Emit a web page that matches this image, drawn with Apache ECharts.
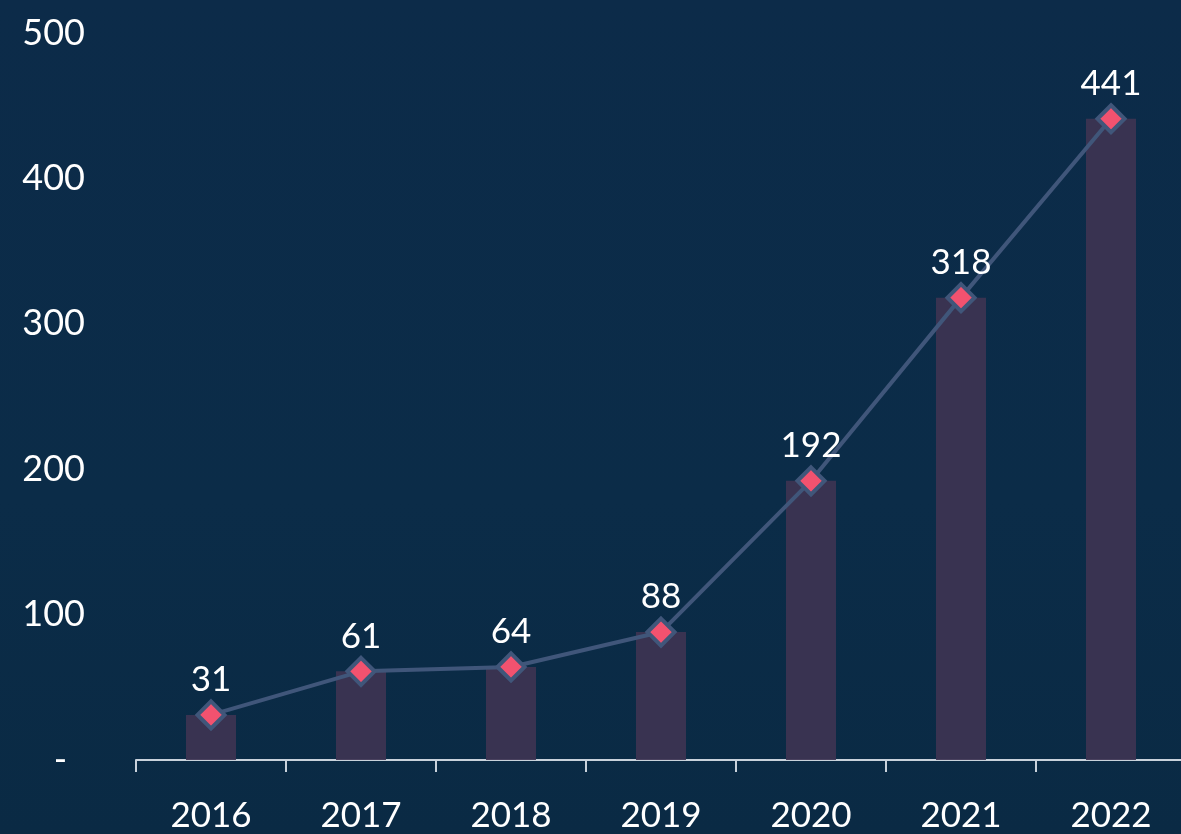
<!DOCTYPE html>
<html>
<head>
<meta charset="utf-8">
<script src="https://cdn.jsdelivr.net/npm/echarts@6/dist/echarts.min.js"></script>
<style>
  html, body { margin: 0; padding: 0; background: #0b2a46; }
  #chart { width: 1181px; height: 834px; }
</style>
</head>
<body>
<div id="chart"></div>
<script>
const years = ['2016', '2017', '2018', '2019', '2020', '2021', '2022']
const values = [31, 61, 64, 88, 192, 318, 441]
const yTicks = [0, 100, 200, 300, 400, 500]

const textColor = '#ffffff'
const lineColor = '#40567a'
const barColor = 'rgba(62, 52, 82, 0.92)'
const markerColor = '#f2526f'
const fontFamily = 'Lato, "Open Sans", sans-serif'

const chart = echarts.init(document.getElementById('chart'))
chart.setOption({
  backgroundColor: {
    type: 'linear',
    x: 0, y: 0, x2: 0, y2: 1,
    colorStops: [
      { offset: 0, color: '#0c2b49' },
      { offset: 0.6, color: '#0b2c48' },
      { offset: 1, color: '#0a2a44' }
    ]
  },
  animation: false,
  grid: {
    left: 136,
    top: 33,
    width: 1050,
    bottom: 74,
    outerBoundsMode: 'none'
  },
  xAxis: {
    type: 'category',
    data: years,
    axisLine: { lineStyle: { color: '#c9d2dc', width: 2 } },
    axisTick: { show: true, length: 12, lineStyle: { color: '#c9d2dc', width: 2 } },
    axisLabel: {
      color: textColor,
      fontSize: 35,
      fontFamily,
      margin: 38
    }
  },
  yAxis: {
    type: 'value',
    min: yTicks[0],
    max: yTicks[yTicks.length - 1],
    interval: 100,
    axisLine: { show: false },
    axisTick: { show: false },
    splitLine: { show: false },
    axisLabel: {
      color: textColor,
      fontSize: 36,
      fontFamily,
      margin: 51,
      // zero shows as a dash, padded like an accounting format
      formatter: v => (v === 0 ? '-\u2002' : String(v))
    }
  },
  series: [
    {
      type: 'bar',
      data: values,
      barWidth: 50,
      itemStyle: { color: barColor },
      z: 1
    },
    {
      type: 'line',
      data: values,
      symbol: 'diamond',
      symbolSize: 27,
      lineStyle: { color: lineColor, width: 4 },
      itemStyle: { color: markerColor, borderColor: lineColor, borderWidth: 4 },
      label: {
        show: true,
        position: 'top',
        distance: 2,
        color: textColor,
        fontSize: 35,
        fontFamily
      },
      z: 3
    }
  ]
})
</script>
</body>
</html>
